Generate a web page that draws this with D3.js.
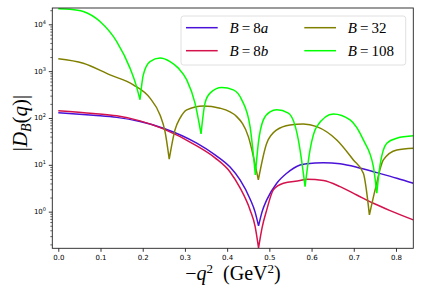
<!DOCTYPE html>
<html><head><meta charset="utf-8">
<script src="https://cdn.jsdelivr.net/npm/d3@7"></script>
<style>body{margin:0;background:#fff} svg{display:block}</style>
</head><body><svg id="c" width="422" height="297"></svg>
<script>
// ---- data ----
const seriesNames = ["B=8a", "B=8b", "B=32", "B=108"];
const xB8a = [0, 0.0829, 0.1384, 0.1936, 0.2488, 0.3280, 0.3713, 0.4069, 0.4306, 0.4543, 0.4661, 0.4744, 0.4827, 0.4938, 0.5175, 0.5412, 0.5727, 0.5886, 0.6280, 0.6675, 0.7071, 0.7545, 0.8019, 0.8412];
const yB8a = [130, 114, 103, 83.7, 60.5, 29, 16.3, 8.93, 4.76, 1.87, 0.99, 0.495, 0.99, 1.78, 4.04, 6.62, 9.95, 10.5, 11.1, 10.5, 8.89, 6.81, 5.17, 4.04];
const xB8b = [0, 0.0829, 0.1384, 0.1936, 0.2488, 0.3280, 0.3713, 0.4069, 0.4306, 0.4543, 0.4661, 0.4744, 0.4827, 0.4938, 0.5095, 0.5332, 0.5727, 0.5886, 0.6280, 0.6675, 0.7071, 0.7464, 0.7860, 0.8412];
const yB8b = [143, 125, 111, 86.7, 58.5, 25.4, 14.1, 7.05, 3.21, 1.09, 0.49, 0.168, 0.45, 1.09, 2.91, 4.04, 4.6, 4.92, 4.6, 3.42, 2.27, 1.51, 1.05, 0.665];
const xB32 = [0, 0.0592, 0.1225, 0.1777, 0.2173, 0.2410, 0.2529, 0.2628, 0.2765, 0.2884, 0.3043, 0.3436, 0.3832, 0.4227, 0.4502, 0.4739, 0.4938, 0.5175, 0.5491, 0.5806, 0.6123, 0.6597, 0.6991, 0.7227, 0.7370, 0.7505, 0.7701, 0.8019, 0.8412];
const yB32 = [1850, 1480, 834, 510, 265, 116, 51.2, 13.2, 55.7, 99, 149, 181, 162, 107, 40, 4.76, 29, 55.7, 71.2, 74.8, 65.5, 34, 12.7, 6.6, 0.85, 2.91, 12.7, 20.8, 22.6];
const xB108 = [0, 0.0277, 0.0592, 0.0988, 0.1384, 0.1699, 0.1841, 0.1936, 0.2014, 0.2173, 0.2410, 0.2647, 0.2844, 0.3043, 0.3239, 0.3382, 0.3476, 0.3595, 0.3872, 0.4147, 0.4346, 0.4543, 0.4668, 0.4739, 0.4858, 0.5017, 0.5175, 0.5450, 0.5687, 0.5727, 0.5846, 0.5964, 0.6123, 0.6517, 0.6912, 0.7227, 0.7464, 0.7545, 0.7623, 0.7782, 0.8019, 0.8412];
const yB108 = [21500, 21000, 18800, 11500, 4290, 1160, 510, 245, 834, 1600, 1900, 1600, 1160, 652, 207, 45.7, 207, 339, 446, 398, 244, 65.5, 6.09, 29, 91, 135, 149, 127, 34, 20.8, 3.42, 20.8, 65.5, 122, 91, 34, 9.16, 2.47, 9.95, 29, 37, 41.5];
const xTicks = [0.0, 0.1, 0.2, 0.3, 0.4, 0.5, 0.6, 0.7, 0.8];
const xTickLabels = ["0.0", "0.1", "0.2", "0.3", "0.4", "0.5", "0.6", "0.7", "0.8"];
const yTicks = [1, 10, 100, 1000, 10000];
const yTickExps = ["0", "1", "2", "3", "4"];

const colors = ["#4a12d8", "#d4124c", "#808000", "#00ff00"];
const series = [
  {x: xB8a, y: yB8a, c: colors[0]},
  {x: xB8b, y: yB8b, c: colors[1]},
  {x: xB32, y: yB32, c: colors[2]},
  {x: xB108, y: yB108, c: colors[3]}
];

const L = 52.3, R = 413.3, T = 8, B = 248.3;
const x = d3.scaleLinear().domain([-0.0142, 0.841]).range([L, R]);
const y = d3.scaleLog().domain([0.165, 22300]).range([B, T]);
const svg = d3.select("#c");

svg.append("defs").append("clipPath").attr("id", "clip")
  .append("rect").attr("x", L).attr("y", T).attr("width", R - L).attr("height", B - T);

const line = d3.line().x(d => x(d[0])).y(d => y(d[1])).curve(d3.curveMonotoneX);
const g = svg.append("g").attr("clip-path", "url(#clip)");
series.forEach(s => {
  const pts = s.x.map((v, i) => [v, s.y[i]]);
  // split at local minima (zeros of the amplitude) so dips stay sharp cusps
  const segs = [];
  let cur = [pts[0]];
  for (let i = 1; i < pts.length; i++) {
    cur.push(pts[i]);
    if (i < pts.length - 1 && pts[i][1] < pts[i - 1][1] && pts[i][1] < pts[i + 1][1]) {
      segs.push(cur);
      cur = [pts[i]];
    }
  }
  segs.push(cur);
  const d = segs.map(sg => line(sg)).join("");
  g.append("path").attr("d", d).attr("fill", "none").attr("stroke", s.c)
    .attr("stroke-width", 1.5).attr("stroke-linejoin", "round");
});

// axes
const xAxis = d3.axisBottom(x).tickValues(xTicks).tickFormat((d, i) => xTickLabels[i]).tickSize(3.5).tickPadding(3);
const gx = svg.append("g").attr("transform", `translate(0,${B})`).call(xAxis);
gx.select(".domain").remove();
gx.selectAll("line").attr("stroke", "#000").attr("stroke-width", 0.8);
gx.selectAll("text").attr("font-family", "DejaVu Sans").attr("font-size", 7).attr("fill", "#000");

const minor = [];
for (let e = -1; e <= 4; e++) for (let k = 2; k <= 9; k++) {
  const v = k * Math.pow(10, e);
  if (v >= 0.165 && v <= 22300) minor.push(v);
}
const yMinor = d3.axisLeft(y).tickValues(minor).tickFormat("").tickSize(2);
const gym = svg.append("g").attr("transform", `translate(${L},0)`).call(yMinor);
gym.select(".domain").remove();
gym.selectAll("line").attr("stroke", "#000").attr("stroke-width", 0.6);

const yAxis = d3.axisLeft(y).tickValues(yTicks).tickFormat("").tickSize(3.5);
const gy = svg.append("g").attr("transform", `translate(${L},0)`).call(yAxis);
gy.select(".domain").remove();
gy.selectAll("line").attr("stroke", "#000").attr("stroke-width", 0.8);
yTicks.forEach((v, i) => {
  const t = svg.append("text").attr("x", 46).attr("y", y(v) + 2.5)
    .attr("text-anchor", "end").attr("font-family", "DejaVu Sans").attr("font-size", 7).attr("fill", "#000");
  t.append("tspan").text("10");
  t.append("tspan").attr("font-size", 5).attr("dy", -3).text(yTickExps[i]);
});

svg.append("rect").attr("x", L).attr("y", T).attr("width", R - L).attr("height", B - T)
  .attr("fill", "none").attr("stroke", "#222").attr("stroke-width", 0.9);

// legend
const lg = svg.append("g");
lg.append("rect").attr("x", 181).attr("y", 16).attr("width", 224.7).attr("height", 49).attr("rx", 2.5)
  .attr("fill", "#fff").attr("fill-opacity", 0.8).attr("stroke", "#d8d8d8").attr("stroke-width", 0.8);
const legendItems = [
  {c: colors[0], num: "8", it: "a", col: 0, row: 0},
  {c: colors[1], num: "8", it: "b", col: 0, row: 1},
  {c: colors[2], num: "32", it: "", col: 1, row: 0},
  {c: colors[3], num: "108", it: "", col: 1, row: 1}
];
legendItems.forEach(d => {
  const hx = d.col === 0 ? 186 : 304.3;
  const ty = d.row === 0 ? 27.7 : 50.7;
  lg.append("line").attr("x1", hx).attr("x2", hx + 31.7).attr("y1", ty).attr("y2", ty)
    .attr("stroke", d.c).attr("stroke-width", 1.5);
  const t = lg.append("text").attr("x", hx + 43.5).attr("y", ty + 5)
    .attr("font-family", "Liberation Serif").attr("font-size", 15).attr("fill", "#000");
  t.append("tspan").attr("font-style", "italic").text("B");
  t.append("tspan").text("\u2009=\u2009" + d.num);
  if (d.it) t.append("tspan").attr("font-style", "italic").text(d.it);
});

// axis labels
const xl = svg.append("text").attr("x", 233).attr("y", 280).attr("text-anchor", "middle")
  .attr("font-family", "Liberation Serif").attr("font-size", 20).attr("fill", "#000");
xl.append("tspan").text("\u2212");
xl.append("tspan").attr("font-style", "italic").text("q");
xl.append("tspan").attr("font-size", 13).attr("dy", -7).text("2");
xl.append("tspan").attr("dy", 7).text("\u2002(GeV");
xl.append("tspan").attr("font-size", 13).attr("dy", -7).text("2");
xl.append("tspan").attr("dy", 7).text(")");

const yl = svg.append("text").attr("transform", "translate(27,123) rotate(-90)").attr("text-anchor", "middle")
  .attr("font-family", "Liberation Serif").attr("font-size", 21).attr("fill", "#000");
yl.append("tspan").text("|");
yl.append("tspan").attr("font-style", "italic").text("D");
yl.append("tspan").attr("font-style", "italic").attr("font-size", 14).attr("dy", 4).text("B");
yl.append("tspan").attr("dy", -4).text("(");
yl.append("tspan").attr("font-style", "italic").text("q");
yl.append("tspan").text(")|");
</script></body></html>
